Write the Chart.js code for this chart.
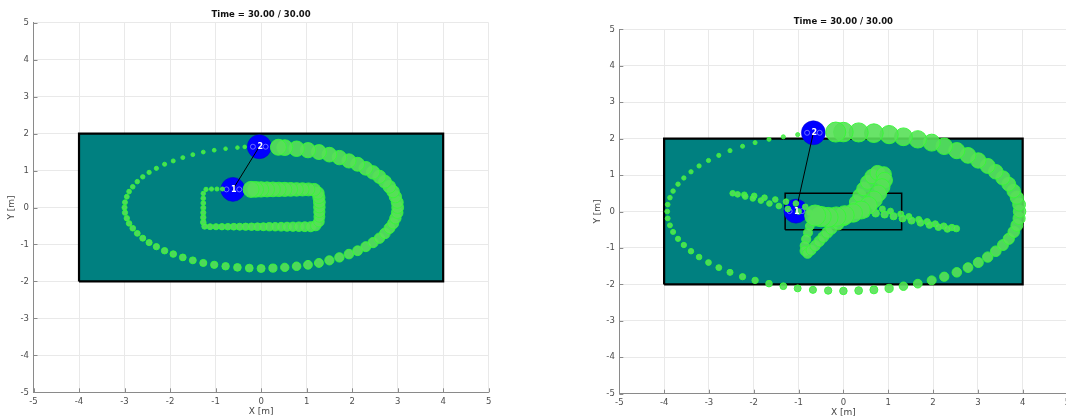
<!DOCTYPE html>
<html lang="en">
<head>
<meta charset="UTF-8">
<title>Time = 30.00 / 30.00</title>
<script src="https://cdn.jsdelivr.net/npm/chart.js"></script>
<style>
    html, body { margin: 0; padding: 0; background: #fff; overflow: hidden; }
    body { width: 1066px; height: 417px; position: relative; }
    canvas { position: absolute; top: 0; }
    #leftChart { left: 0; }
    #rightChart { left: 560px; }
</style>
</head>
<body>
<canvas id="leftChart" width="540" height="417"></canvas>
<canvas id="rightChart" width="520" height="417"></canvas>

<script>
// common text / axes
const titleText = 'Time = 30.00 / 30.00';
const xLabel = 'X [m]';
const yLabel = 'Y [m]';
const axisTicks = [-5, -4, -3, -2, -1, 0, 1, 2, 3, 4, 5];

// arena (teal area with black border)
const arenaOutline = [{x:-4,y:-2},{x:4,y:-2},{x:4,y:2},{x:-4,y:2},{x:-4,y:-2}];
const arenaBottom = [{x:-4,y:-2},{x:4,y:-2}];
const arenaTop = 2;
const innerBox = [{x:-1.3,y:-0.5},{x:1.3,y:-0.5},{x:1.3,y:0.5},{x:-1.3,y:0.5},{x:-1.3,y:-0.5}];

// ---- left panel ----
const leftRobots = [{x:-0.62,y:0.49},{x:-0.04,y:1.645}];
const leftRings = [{x:-0.76,y:0.49},{x:-0.48,y:0.49},{x:-0.18,y:1.645},{x:0.10,y:1.645}];
const leftPath1 = [
    {x:-0.85,y:0.50},{x:-0.97,y:0.50},{x:-1.09,y:0.50},{x:-1.21,y:0.49},
    {x:-1.27,y:0.38},{x:-1.27,y:0.25},{x:-1.27,y:0.12},{x:-1.27,y:-0.01},{x:-1.27,y:-0.14},{x:-1.27,y:-0.27},{x:-1.27,y:-0.40},{x:-1.24,y:-0.51},
    {x:-1.12,y:-0.52},{x:-0.99,y:-0.52},{x:-0.86,y:-0.52},{x:-0.73,y:-0.52},{x:-0.60,y:-0.52},{x:-0.47,y:-0.52},{x:-0.34,y:-0.52},{x:-0.21,y:-0.52},
    {x:-0.08,y:-0.52},{x:0.05,y:-0.52},{x:0.18,y:-0.52},{x:0.31,y:-0.52},{x:0.44,y:-0.52},{x:0.57,y:-0.52},{x:0.70,y:-0.52},{x:0.83,y:-0.52},
    {x:0.96,y:-0.52},{x:1.09,y:-0.52},{x:1.20,y:-0.49},
    {x:1.27,y:-0.38},{x:1.28,y:-0.25},{x:1.28,y:-0.12},{x:1.28,y:0.01},{x:1.28,y:0.14},{x:1.27,y:0.27},{x:1.25,y:0.39},
    {x:1.17,y:0.48},{x:1.04,y:0.49},{x:0.91,y:0.49},{x:0.78,y:0.49},{x:0.65,y:0.49},{x:0.52,y:0.49},{x:0.39,y:0.49},{x:0.26,y:0.49},
    {x:0.13,y:0.49},{x:0.00,y:0.49},{x:-0.12,y:0.49},{x:-0.22,y:0.49}
];
const leftPath2 = [
    {x:-0.36,y:1.64},{x:-0.52,y:1.62},{x:-0.78,y:1.59},{x:-1.03,y:1.55},{x:-1.27,y:1.50},{x:-1.50,y:1.43},{x:-1.72,y:1.35},{x:-1.93,y:1.26},
    {x:-2.12,y:1.17},{x:-2.30,y:1.06},{x:-2.46,y:0.95},{x:-2.60,y:0.83},{x:-2.72,y:0.70},{x:-2.82,y:0.56},{x:-2.90,y:0.43},{x:-2.95,y:0.29},
    {x:-2.99,y:0.14},{x:-3.00,y:0.00},{x:-2.99,y:-0.14},{x:-2.95,y:-0.29},{x:-2.90,y:-0.43},{x:-2.82,y:-0.56},{x:-2.72,y:-0.70},{x:-2.60,y:-0.83},
    {x:-2.46,y:-0.95},{x:-2.30,y:-1.06},{x:-2.12,y:-1.17},{x:-1.93,y:-1.26},{x:-1.72,y:-1.35},{x:-1.50,y:-1.43},{x:-1.27,y:-1.50},{x:-1.03,y:-1.55},
    {x:-0.78,y:-1.59},{x:-0.52,y:-1.62},{x:-0.26,y:-1.64},{x:0.00,y:-1.65},{x:0.26,y:-1.64},{x:0.52,y:-1.62},{x:0.78,y:-1.59},{x:1.03,y:-1.55},
    {x:1.27,y:-1.50},{x:1.50,y:-1.43},{x:1.72,y:-1.35},{x:1.93,y:-1.26},{x:2.12,y:-1.17},{x:2.30,y:-1.06},{x:2.46,y:-0.95},{x:2.60,y:-0.83},
    {x:2.72,y:-0.70},{x:2.82,y:-0.56},{x:2.90,y:-0.43},{x:2.95,y:-0.29},{x:2.99,y:-0.14},{x:3.00,y:0.00},{x:2.99,y:0.14},{x:2.95,y:0.29},
    {x:2.90,y:0.43},{x:2.82,y:0.56},{x:2.72,y:0.70},{x:2.60,y:0.83},{x:2.46,y:0.95},{x:2.30,y:1.06},{x:2.12,y:1.17},{x:1.93,y:1.26},
    {x:1.72,y:1.35},{x:1.50,y:1.43},{x:1.27,y:1.50},{x:1.03,y:1.55},{x:0.78,y:1.59},{x:0.52,y:1.62},{x:0.38,y:1.63}
];

// ---- right panel ----
const rightRobots = [{x:-1.06,y:0.01},{x:-0.67,y:2.16}];
const rightRings = [{x:-1.20,y:0.01},{x:-0.92,y:0.01},{x:-0.81,y:2.16},{x:-0.53,y:2.16}];
const rightPath1 = [
    {x:-0.85,y:0.13},{x:-1.06,y:0.22},{x:-1.28,y:0.27},{x:-1.52,y:0.33},{x:-1.76,y:0.38},{x:-1.99,y:0.43},{x:-2.21,y:0.46},{x:-2.47,y:0.50},
    {x:-2.36,y:0.47},{x:-2.19,y:0.41},{x:-2.02,y:0.36},{x:-1.84,y:0.30},{x:-1.65,y:0.22},{x:-1.44,y:0.15},{x:-1.24,y:0.07},
    {x:-1.00,y:0.00},{x:-0.75,y:-0.03},{x:-0.50,y:-0.02},{x:-0.25,y:0.00},{x:0.00,y:0.03},{x:0.25,y:0.08},{x:0.48,y:0.12},
    {x:0.68,y:0.13},{x:0.87,y:0.07},{x:1.05,y:0.01},{x:1.28,y:-0.07},{x:1.46,y:-0.14},{x:1.68,y:-0.22},{x:1.87,y:-0.28},{x:2.05,y:-0.34},
    {x:2.24,y:-0.40},{x:2.42,y:-0.44},{x:2.52,y:-0.47},
    {x:2.32,y:-0.48},{x:2.12,y:-0.43},{x:1.92,y:-0.37},{x:1.72,y:-0.31},{x:1.52,y:-0.25},{x:1.32,y:-0.19},{x:1.12,y:-0.13},{x:0.92,y:-0.08},
    {x:0.72,y:-0.05},{x:0.50,y:-0.06},{x:0.28,y:-0.09},{x:0.06,y:-0.12},{x:-0.16,y:-0.14},{x:-0.38,y:-0.15},{x:-0.60,y:-0.15},
    {x:-0.70,y:-0.24},{x:-0.75,y:-0.40},{x:-0.79,y:-0.58},{x:-0.83,y:-0.76},{x:-0.86,y:-0.94},{x:-0.86,y:-1.08},{x:-0.80,y:-1.15},
    {x:-0.72,y:-1.06},{x:-0.63,y:-0.94},{x:-0.54,y:-0.82},{x:-0.45,y:-0.70},{x:-0.36,y:-0.58},{x:-0.27,y:-0.47},
    {x:-0.12,y:-0.35},{x:0.02,y:-0.22},{x:0.14,y:-0.08},{x:0.24,y:0.08},
    {x:0.28,y:0.26},{x:0.36,y:0.44},{x:0.45,y:0.62},{x:0.54,y:0.80},{x:0.64,y:0.96},{x:0.76,y:1.06},
    {x:0.90,y:1.02},{x:0.92,y:0.86},{x:0.86,y:0.68},{x:0.78,y:0.50},{x:0.68,y:0.33},{x:0.56,y:0.17},
    {x:0.40,y:0.04},{x:0.22,y:-0.04},{x:0.03,y:-0.10},{x:-0.16,y:-0.14},{x:-0.34,y:-0.16},{x:-0.50,y:-0.14},{x:-0.63,y:-0.11}
];
const rightPath2 = [
    {x:-1.02,y:2.11},{x:-1.34,y:2.05},{x:-1.66,y:1.98},{x:-1.97,y:1.89},{x:-2.25,y:1.79},{x:-2.53,y:1.67},{x:-2.78,y:1.54},{x:-3.01,y:1.40},
    {x:-3.22,y:1.25},{x:-3.40,y:1.09},{x:-3.56,y:0.92},{x:-3.69,y:0.75},{x:-3.80,y:0.56},{x:-3.87,y:0.38},{x:-3.92,y:0.19},{x:-3.93,y:0.00},
    {x:-3.92,y:-0.19},{x:-3.87,y:-0.38},{x:-3.80,y:-0.56},{x:-3.69,y:-0.75},{x:-3.56,y:-0.92},{x:-3.40,y:-1.09},{x:-3.22,y:-1.25},{x:-3.01,y:-1.40},
    {x:-2.78,y:-1.54},{x:-2.53,y:-1.67},{x:-2.25,y:-1.79},{x:-1.97,y:-1.89},{x:-1.66,y:-1.98},{x:-1.34,y:-2.05},{x:-1.02,y:-2.11},{x:-0.68,y:-2.15},
    {x:-0.34,y:-2.17},{x:0.00,y:-2.18},{x:0.34,y:-2.17},{x:0.68,y:-2.15},{x:1.02,y:-2.11},{x:1.34,y:-2.05},{x:1.66,y:-1.98},{x:1.97,y:-1.89},
    {x:2.25,y:-1.79},{x:2.53,y:-1.67},{x:2.78,y:-1.54},{x:3.01,y:-1.40},{x:3.22,y:-1.25},{x:3.40,y:-1.09},{x:3.56,y:-0.92},{x:3.69,y:-0.75},
    {x:3.80,y:-0.56},{x:3.87,y:-0.38},{x:3.92,y:-0.19},{x:3.93,y:0.00},{x:3.92,y:0.19},{x:3.87,y:0.38},{x:3.80,y:0.56},{x:3.69,y:0.75},
    {x:3.56,y:0.92},{x:3.40,y:1.09},{x:3.22,y:1.25},{x:3.01,y:1.40},{x:2.78,y:1.54},{x:2.53,y:1.67},{x:2.25,y:1.79},{x:1.97,y:1.89},
    {x:1.66,y:1.98},{x:1.34,y:2.05},{x:1.02,y:2.11},{x:0.68,y:2.15},{x:0.34,y:2.17},{x:0.00,y:2.18},{x:-0.17,y:2.18}
];

// styling helpers
const FONT = '"DejaVu Sans", "Liberation Sans", sans-serif';
const TEAL = '#008080';

// marker radius grows along the trail (older = smaller)
function growRadius(n, rMin, rMax, p) {
    return Array.from({length: n}, (_, i) => rMin + (rMax - rMin) * Math.pow(i / (n - 1), p));
}

function trailDataset(points, radii, order) {
    return {
        data: points,
        showLine: false,
        pointRadius: radii,
        pointBackgroundColor: 'rgba(88,224,88,0.9)',
        pointBorderColor: 'rgba(55,248,55,0.95)',
        pointBorderWidth: 1,
        order: order
    };
}

const overlayPlugin = {
    id: 'overlay',
    afterDatasetsDraw(chart, args, opts) {
        const {ctx, chartArea: a, scales: {x, y}} = chart;
        ctx.save();

        // inward tick marks on left and bottom axes
        ctx.strokeStyle = '#8a8a8a';
        ctx.lineWidth = 1;
        ctx.beginPath();
        axisTicks.forEach(v => {
            const px = Math.round(x.getPixelForValue(v)) + 0.5;
            ctx.moveTo(px, a.bottom);
            ctx.lineTo(px, a.bottom - 4);
            const py = Math.round(y.getPixelForValue(v)) + 0.5;
            ctx.moveTo(a.left, py);
            ctx.lineTo(a.left + 4, py);
        });
        ctx.stroke();

        // robot numbers
        ctx.fillStyle = '#ffffff';
        ctx.font = 'bold 8px ' + FONT;
        ctx.textAlign = 'center';
        ctx.textBaseline = 'middle';
        opts.robots.forEach((p, i) => {
            ctx.fillText(String(i + 1), x.getPixelForValue(p.x) + 1, y.getPixelForValue(p.y) + 0.5);
        });

        // title
        ctx.fillStyle = '#111';
        ctx.font = 'bold 8.5px ' + FONT;
        ctx.fillText(titleText, (a.left + a.right) / 2, a.top - 7.5);

        // axis titles
        ctx.fillStyle = '#444';
        ctx.font = '9px ' + FONT;
        ctx.fillText(xLabel, (a.left + a.right) / 2, a.bottom + 19);
        ctx.translate(a.left - 21.5, (a.top + a.bottom) / 2);
        ctx.rotate(-Math.PI / 2);
        ctx.fillText(yLabel, 0, 0);
        ctx.restore();
    }
};

function axis(fitSize, isX) {
    return {
        type: 'linear',
        min: -5,
        max: 5,
        ticks: {
            stepSize: 1,
            autoSkip: false,
            maxRotation: 0,
            padding: isX ? 4 : 4.5,
            color: '#4d4d4d',
            font: {family: FONT, size: 8.5}
        },
        grid: {color: '#e9e9e9', lineWidth: 1, drawTicks: false},
        border: {color: '#8a8a8a', width: 1},
        afterFit: s => { if (isX) { s.height = fitSize; } else { s.width = fitSize; } }
    };
}

function buildChart(id, cfg) {
    const datasets = [
        {data: arenaBottom, fill: {value: arenaTop}, backgroundColor: TEAL, borderWidth: 0, pointRadius: 0, order: 20},
        {data: arenaOutline, borderColor: '#000', borderWidth: 2.2, pointRadius: 0, fill: false, order: 19},
        {data: cfg.robots, showLine: false, pointRadius: 12, pointBackgroundColor: '#0000ff', pointBorderColor: '#0000d0', pointBorderWidth: 0.5, order: 16},
        {data: cfg.rings, showLine: false, pointRadius: 2.5, pointBackgroundColor: 'rgba(0,0,0,0)', pointBorderColor: 'rgba(120,120,255,0.9)', pointBorderWidth: 1, order: 15},
        {data: cfg.robots, borderColor: '#000', borderWidth: 1, pointRadius: 0, fill: false, order: 14},
        trailDataset(cfg.path1, cfg.radii1, 13),
        trailDataset(cfg.path2, cfg.radii2, 12)
    ];
    if (cfg.box) {
        datasets.push({data: cfg.box, borderColor: '#000', borderWidth: 1.5, pointRadius: 0, fill: false, order: 18});
    }
    return new Chart(document.getElementById(id), {
        type: 'line',
        data: {datasets: datasets},
        options: {
            responsive: false,
            devicePixelRatio: 1,
            animation: false,
            events: [],
            layout: {padding: cfg.padding},
            plugins: {
                legend: {display: false},
                tooltip: {enabled: false},
                overlay: {robots: cfg.robots}
            },
            scales: {
                x: axis(cfg.xHeight, true),
                y: axis(cfg.yWidth, false)
            }
        },
        plugins: [overlayPlugin]
    });
}

buildChart('leftChart', {
    robots: leftRobots,
    rings: leftRings,
    path1: leftPath1,
    path2: leftPath2,
    radii1: growRadius(leftPath1.length, 2, 8, 1.3),
    radii2: growRadius(leftPath2.length, 1.8, 8, 1.5),
    padding: {left: 0, top: 22.7, right: 51.3, bottom: 0},
    xHeight: 24.7,
    yWidth: 33.5
});

buildChart('rightChart', {
    robots: rightRobots,
    rings: rightRings,
    path1: rightPath1,
    path2: rightPath2,
    box: innerBox,
    radii1: growRadius(rightPath1.length, 2.8, 10.5, 3),
    radii2: growRadius(rightPath2.length, 2, 10, 2),
    padding: {left: 0, top: 29.3, right: 10.7, bottom: 0},
    xHeight: 23.3,
    yWidth: 59.3
});
</script>
</body>
</html>
